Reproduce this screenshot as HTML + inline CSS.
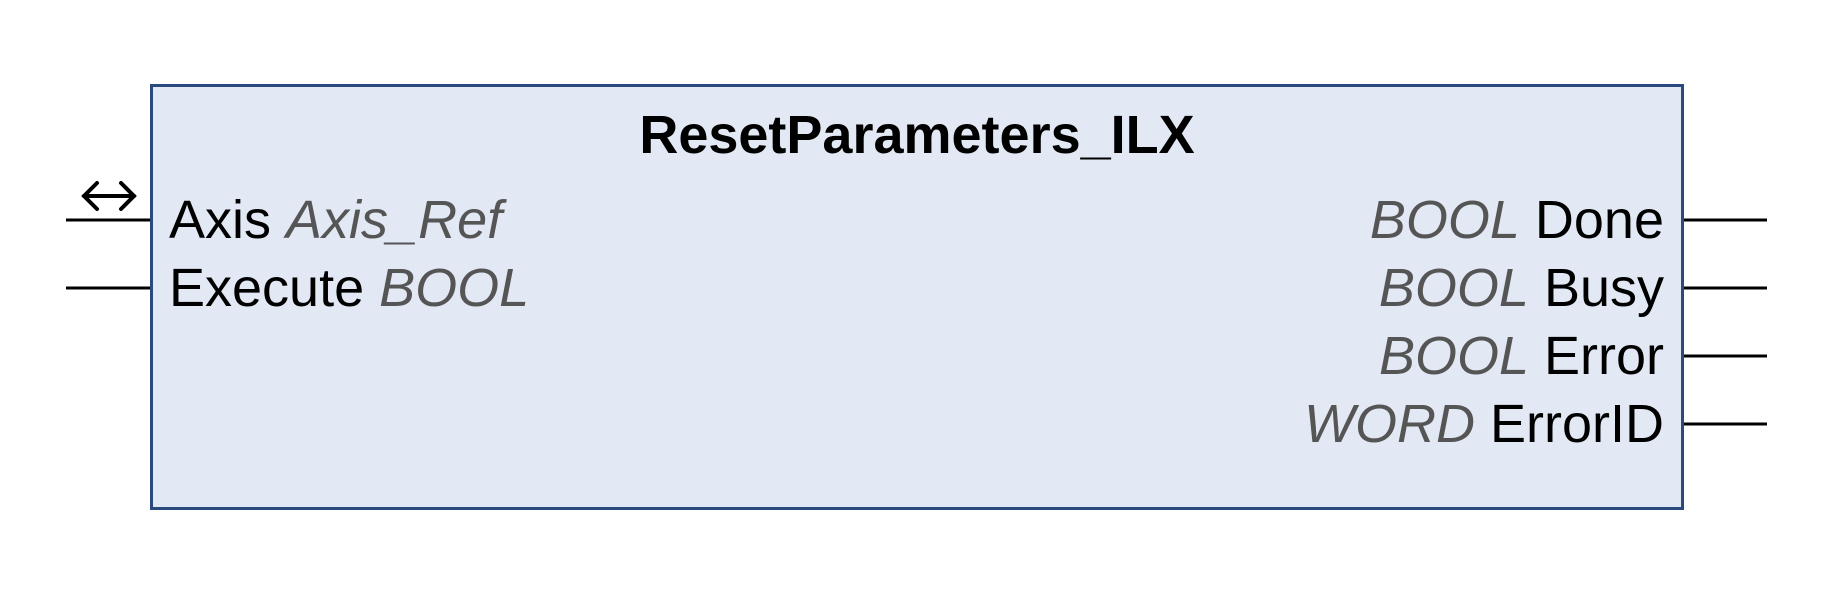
<!DOCTYPE html>
<html><head><style>body{margin:0;background:#fff}</style></head><body>
<svg width="1836" height="594" xmlns="http://www.w3.org/2000/svg" font-family="Liberation Sans, Arial, sans-serif">
<rect x="151.5" y="85.5" width="1531" height="423" fill="#e2e9f5" stroke="#2a4a7e" stroke-width="3"/>
<g stroke="#000" stroke-width="3">
<line x1="66" y1="220" x2="150" y2="220"/>
<line x1="66" y1="288" x2="150" y2="288"/>
<line x1="1684" y1="220" x2="1767" y2="220"/>
<line x1="1684" y1="288" x2="1767" y2="288"/>
<line x1="1684" y1="356" x2="1767" y2="356"/>
<line x1="1684" y1="424" x2="1767" y2="424"/>
</g>
<g stroke="#000" stroke-width="4" fill="none" stroke-linecap="round">
<line x1="84" y1="196" x2="134" y2="196"/>
<polyline points="97,183 84,196 97,209"/>
<polyline points="121,183 134,196 121,209"/>
</g>
<text x="917" y="153" font-size="54" font-weight="bold" text-anchor="middle">ResetParameters_ILX</text>
<g font-size="54">
<text x="169" y="238">Axis <tspan fill="#555" font-style="italic">Axis_Ref</tspan></text>
<text x="169" y="306">Execute <tspan fill="#555" font-style="italic">BOOL</tspan></text>
<g text-anchor="end">
<text x="1664" y="238"><tspan fill="#555" font-style="italic">BOOL</tspan> Done</text>
<text x="1664" y="306"><tspan fill="#555" font-style="italic">BOOL</tspan> Busy</text>
<text x="1664" y="374"><tspan fill="#555" font-style="italic">BOOL</tspan> Error</text>
<text x="1664" y="442"><tspan fill="#555" font-style="italic">WORD</tspan> ErrorID</text>
</g></g>
</svg>
</body></html>
